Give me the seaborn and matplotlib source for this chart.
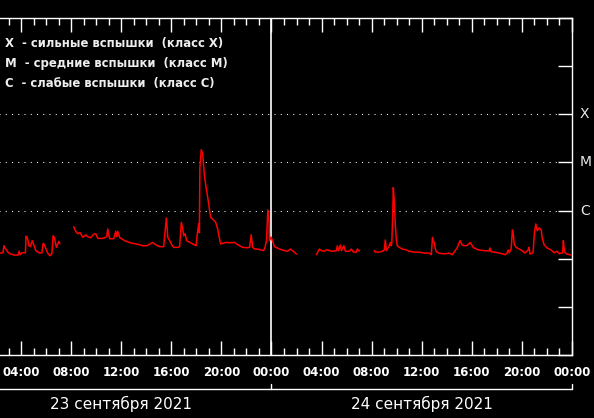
import numpy as np
import pandas as pd
import seaborn as sns
import matplotlib.pyplot as plt
from matplotlib.ticker import NullLocator

# GOES X-ray flux, time in hours from 23.09.2021 00:00, flux in units of 1e-7 W/m2
# the data has gaps, so it is kept as separate segments
seg1_hours = [2.2, 2.31, 2.55, 2.58, 2.63, 2.71, 2.87, 2.95, 3.11, 3.43, 3.75, 3.85, 3.91, 4.07,
              4.35, 4.39, 4.47, 4.55, 4.63, 4.74, 4.89, 4.98, 5.10, 5.18, 5.42, 5.66, 5.76,
              5.86, 5.98, 6.14, 6.30, 6.46, 6.56, 6.66, 6.82, 6.94, 7.02, 7.10]
seg1_flux = [1.31, 1.31, 1.33, 1.47, 1.86, 1.69, 1.47, 1.37, 1.27, 1.19, 1.19, 1.43, 1.21, 1.33,
             1.33, 2.94, 2.86, 2.37, 1.86, 1.78, 2.37, 2.05, 1.69, 1.47, 1.33, 1.31, 2.08,
             1.95, 1.61, 1.29, 1.15, 1.27, 3.0, 2.73, 1.72, 2.05, 2.29, 2.05]

seg2_hours = [8.21, 8.29, 8.37, 8.53, 8.69, 8.80, 8.93, 9.17, 9.33, 9.57, 9.81, 9.97, 10.13,
              10.52, 10.84, 10.92, 11.00, 11.08, 11.40, 11.56, 11.64, 11.72, 11.88, 12.28,
              12.68, 13.08, 13.48, 13.71, 14.03, 14.27, 14.51, 14.75, 15.07, 15.39, 15.60,
              15.67, 15.71, 15.87, 16.03, 16.19, 16.50, 16.66, 16.80, 16.91, 16.99, 17.10,
              17.22, 17.46, 17.70, 17.98, 18.06, 18.18, 18.24, 18.28, 18.39, 18.50, 18.58,
              18.66, 18.82, 18.98, 19.14, 19.30, 19.54, 19.70, 19.82, 19.93, 20.17, 20.33,
              20.65, 21.05, 21.21, 21.45, 21.69, 22.01, 22.25, 22.38, 22.49, 22.65, 22.88,
              23.20, 23.36, 23.48, 23.60, 23.71, 23.80, 23.84, 23.96, 24.08, 24.24, 24.64,
              25.04, 25.28, 25.52, 25.67, 25.83, 25.99]
seg2_flux = [4.62, 4.0, 3.7, 3.30, 3.5, 3.15, 2.78, 3.12, 2.86, 2.73, 3.27, 3.27, 2.64,
             2.64, 2.86, 4.15, 3.15, 2.6, 2.6, 3.7, 2.86, 3.7, 2.73, 2.37,
             2.15, 2.05, 1.95, 1.86, 1.86, 2.0, 2.18, 1.95, 1.78, 1.78, 7.0,
             4.2, 2.8, 2.37, 1.95, 1.72, 1.72, 1.78, 5.7, 4.2, 3.0, 3.3,
             2.37, 2.2, 2.03, 1.86, 3.0, 5.33, 3.47, 78.0, 184.0, 152.0, 85.5,
             48.9, 25.9, 13.9, 7.2, 6.7, 5.7, 4.15, 2.86, 2.03, 2.1, 2.18,
             2.15, 2.18, 2.03, 1.86, 1.72, 1.69, 1.72, 3.15, 1.72, 1.59, 1.59,
             1.51, 1.47, 1.72, 2.37, 10.3, 6.16, 2.37, 2.8, 2.37, 1.78, 1.59,
             1.47, 1.43, 1.59, 1.47, 1.37, 1.25]

seg3_hours = [27.59, 27.75, 27.83, 27.99, 28.23, 28.39, 28.62, 28.86, 29.18, 29.26, 29.34,
              29.50, 29.58, 29.78, 29.90, 30.22, 30.38, 30.54, 30.78, 30.86, 31.02]
seg3_flux = [1.21, 1.47, 1.59, 1.47, 1.43, 1.54, 1.47, 1.43, 1.47, 1.86, 1.47,
             1.93, 1.47, 1.86, 1.43, 1.43, 1.59, 1.37, 1.37, 1.59, 1.43]

seg4_hours = [32.21, 32.29, 32.61, 32.85, 33.01, 33.09, 33.17, 33.33, 33.41, 33.49, 33.57,
              33.61, 33.68, 33.73, 33.81, 33.89, 33.97, 34.05, 34.21, 34.45, 34.77, 35.00,
              35.40, 35.80, 36.20, 36.60, 36.76, 36.86, 36.92, 37.00, 37.08, 37.16, 37.40,
              37.79, 37.95, 38.19, 38.43, 38.59, 38.83, 39.05, 39.23, 39.39, 39.63, 39.87,
              40.11, 40.35, 40.59, 40.99, 41.38, 41.44, 41.54, 41.78, 42.18, 42.42, 42.66,
              42.82, 42.90, 42.98, 43.14, 43.24, 43.30, 43.38, 43.54, 43.78, 44.02, 44.25,
              44.49, 44.57, 44.65, 44.89, 45.00, 45.11, 45.22, 45.38, 45.54, 45.61, 45.77,
              46.01, 46.33, 46.57, 46.81, 46.97, 47.25, 47.31, 47.37, 47.45, 47.61, 47.93]
seg4_flux = [1.47, 1.37, 1.37, 1.43, 1.52, 2.45, 1.47, 1.72, 1.86, 2.18, 1.86,
             2.15, 8.6, 30.0, 14.8, 4.85, 2.56, 1.86, 1.72, 1.59, 1.52, 1.43,
             1.37, 1.37, 1.31, 1.31, 1.21, 2.77, 2.37, 2.18, 1.61, 1.40, 1.29,
             1.27, 1.27, 1.31, 1.21, 1.37, 1.69, 2.37, 1.93, 1.86, 1.88, 2.18,
             1.72, 1.59, 1.52, 1.47, 1.45, 1.67, 1.40, 1.37, 1.31, 1.27, 1.21,
             1.31, 1.52, 1.33, 1.61, 3.97, 3.47, 2.03, 1.72, 1.59, 1.47, 1.31,
             1.52, 1.72, 1.25, 1.33, 3.52, 5.27, 3.81, 4.35, 3.97, 2.77, 1.95,
             1.67, 1.52, 1.33, 1.43, 1.27, 1.33, 2.37, 1.61, 1.33, 1.25, 1.19]

class_levels = [1e-4, 1e-5, 1e-6]
class_names = ["X", "M", "C"]
legend_lines = ["X  - сильные вспышки  (класс X)",
                "M  - средние вспышки  (класс M)",
                "C  - слабые вспышки  (класс C)"]
tick_hours = list(range(0, 49, 4))
# the first 00:00 lies outside the picture, so it gets no label
tick_labels = ["", "04:00", "08:00", "12:00", "16:00", "20:00",
               "00:00", "04:00", "08:00", "12:00", "16:00", "20:00", "00:00"]
day_names = ["23 сентября 2021", "24 сентября 2021"]
day_bounds = [0, 24, 48]

segs = [(seg1_hours, seg1_flux), (seg2_hours, seg2_flux),
        (seg3_hours, seg3_flux), (seg4_hours, seg4_flux)]
frames = []
for i, (h, f) in enumerate(segs):
    frames.append(pd.DataFrame({"hour": h, "flux": np.array(f) * 1e-7, "segment": i}))
df = pd.concat(frames, ignore_index=True)

sns.set_style("ticks")
plt.rcParams["font.family"] = ["DejaVu Sans"]

fig = plt.figure(figsize=(5.94, 4.18), dpi=100, facecolor="black")
ax = fig.add_axes([-29 / 594, 63 / 418, 601 / 594, 337 / 418])
ax.set_facecolor("black")

for lvl in class_levels:
    ax.axhline(lvl, color="white", ls=(0, (1, 5)), lw=0.75, zorder=1)
ax.axvline(24, color="white", lw=1.2, zorder=1)

sns.lineplot(data=df, x="hour", y="flux", units="segment", estimator=None,
             color="#ff0000", lw=1.1, ax=ax, legend=False, zorder=3)

ax.set_yscale("log")
ax.set_ylim(1e-9, 1e-2)
ax.set_xlim(0, 48)
ax.set_xlabel("")
ax.set_ylabel("")

ax.set_xticks(tick_hours)
ax.set_xticklabels(tick_labels)
ax.set_xticks(np.arange(0, 49, 1), minor=True)
ax.tick_params(axis="x", which="both", direction="in", top=True, bottom=True,
               color="white", labelcolor="white", labelsize=8.5, pad=8, width=1)
ax.tick_params(axis="x", which="major", length=10)
ax.tick_params(axis="x", which="minor", length=5)
for lab in ax.get_xticklabels():
    lab.set_fontweight("bold")

ax.set_yticks([10.0 ** k for k in range(-9, -1)])
ax.yaxis.set_minor_locator(NullLocator())
ax.tick_params(axis="y", which="major", direction="in", left=False, right=True,
               labelleft=False, labelright=False, length=10, width=1, color="white")

for sp in ax.spines.values():
    sp.set_color("white")
    sp.set_linewidth(1)

ytr = ax.get_yaxis_transform()
for lvl, name in zip(class_levels, class_names):
    ax.text(1.0133, lvl, name, transform=ytr, ha="left", va="center",
            color="#e8e8e8", fontsize=10)

xtr = ax.get_xaxis_transform()
ax.plot([day_bounds[0], day_bounds[-1]], [-0.101, -0.101], color="white", lw=1,
        transform=xtr, clip_on=False)
for b in day_bounds:
    ax.plot([b, b], [-0.101, -0.086], color="white", lw=1, transform=xtr, clip_on=False)
for k, name in enumerate(day_names):
    ax.text((day_bounds[k] + day_bounds[k + 1]) / 2, -0.145, name, transform=xtr,
            ha="center", va="center", color="white", fontsize=11)

for k, line in enumerate(legend_lines):
    fig.text(5 / 594, (418 - 44 - 19.5 * k) / 418, line, ha="left", va="center",
             color="#eeeeee", fontsize=8.4, fontweight="bold")

fig.savefig("out.png", dpi=100, facecolor="black")
